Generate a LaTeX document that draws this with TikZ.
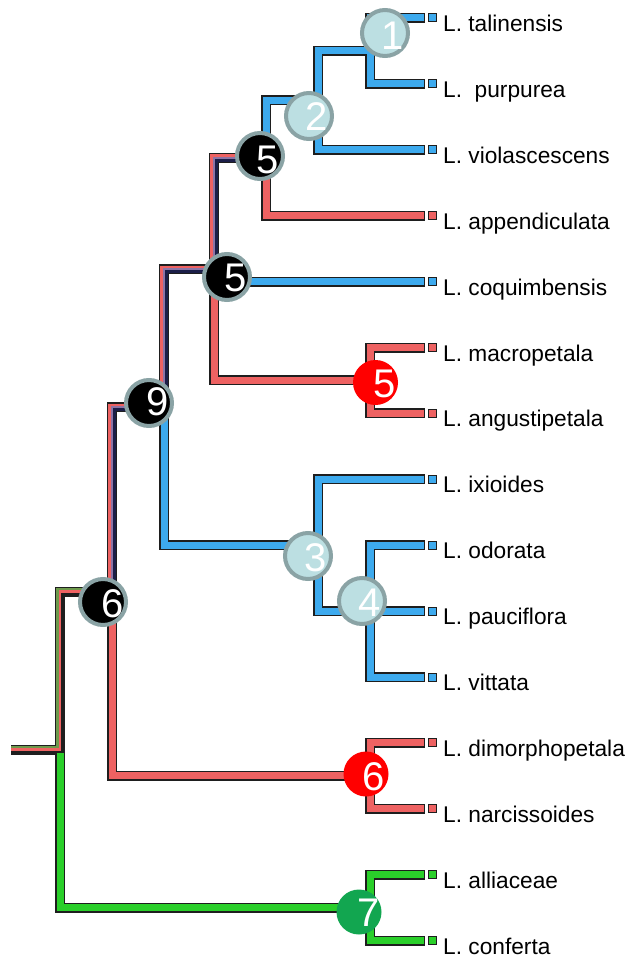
\documentclass[tikz,border=0pt]{standalone}
\usepackage{fontspec}
\setmainfont{Liberation Sans}
\usetikzlibrary{calc}
\definecolor{cb}{HTML}{3DAAEE}
\definecolor{cr}{HTML}{EE6262}
\definecolor{cg}{HTML}{2ACF2A}
\definecolor{colive}{HTML}{6E9A4C}
\definecolor{cmauve}{HTML}{8C74A6}
\definecolor{cnavy}{HTML}{1B1E48}
\definecolor{outc}{HTML}{1E1E1E}
\definecolor{lightc}{HTML}{BCDFE2}
\definecolor{ringc}{HTML}{8AA3A5}
\definecolor{redc}{HTML}{FF0000}
\definecolor{greenc}{HTML}{12A650}
\begin{document}
\begin{tikzpicture}[x=1pt,y=-1pt,
  outl/.style={line width=10pt, draw=outc, line join=miter, line cap=rect},
  fillc/.style={line width=7pt, draw=#1, line join=miter, line cap=rect},
  stripe/.style={line width=2.5pt, draw=#1, line join=miter, line cap=butt},
  leafsq/.style={draw=outc, line width=1pt, fill=#1, minimum size=8pt, inner sep=0pt},
  leaflab/.style={anchor=base west, inner sep=0pt, font=\fontsize{22.7}{26}\selectfont},
  ringcirc/.style={circle, fill=#1, draw=ringc, line width=4pt, minimum size=46pt, inner sep=0pt},
  solidcirc/.style={circle, fill=#1, minimum size=45pt, inner sep=0pt},
  digit/.style={text=white, inner sep=0pt, font=\fontsize{40}{42}\selectfont},
]
\useasboundingbox (0,0) rectangle (629,958);
% leaves
\foreach \i/\y in {0/18,1/83.9,2/149.8,3/215.7,4/281.6,5/347.5,6/413.4,7/479.3,8/545.2,9/611.1,10/677,11/742.9,12/808.8,13/874.7,14/940.6}
  \coordinate (L\i) at (420,\y);
% internal nodes
\coordinate (A) at (370,50.95);
\coordinate (B) at (318,100.4);
\coordinate (C) at (266,158.05);
\coordinate (E) at (370,380.45);
\coordinate (D) at (214,269.25);
\coordinate (G) at (370,611.1);
\coordinate (F) at (318,545.2);
\coordinate (N9) at (164,407.2);
\coordinate (H) at (370,775.85);
\coordinate (N6) at (112,591.5);
\coordinate (I) at (370,907.65);
\coordinate (R) at (60,749.6);
\coordinate (RS) at (11,749.6);
% outlines
\foreach \p/\c in {A/L0,A/L1,B/A,B/L2,C/B,C/L3,D/L4,D/E,E/L5,E/L6,F/L7,F/G,G/L8,G/L9,G/L10,N9/F,N6/H,H/L11,H/L12,R/I,I/L13,I/L14,D/C,N9/D,N6/N9}
  \draw[outl] (\p) |- (\c);
\draw[outl, line cap=butt] (RS) -- (R) |- (N6);
% solid fills
\foreach \p/\c/\k in {A/L0/cb,A/L1/cb,B/A/cb,B/L2/cb,C/B/cb,C/L3/cr,D/L4/cb,D/E/cr,E/L5/cr,E/L6/cr,F/L7/cb,F/G/cb,G/L8/cb,G/L9/cb,G/L10/cb,N9/F/cb,N6/H/cr,H/L11/cr,H/L12/cr,R/I/cg,I/L13/cg,I/L14/cg}
  \draw[fillc=\k] (\p) |- (\c);
% striped fills
\foreach \p/\c in {D/C,N9/D,N6/N9} {
  \draw[stripe=cr] ($(\p)+(-2.35,-2.35)$) |- ($(\c)+(0,-2.35)$);
  \draw[stripe=cmauve] (\p) |- (\c);
  \draw[stripe=cnavy] ($(\p)+(2.35,2.35)$) |- ($(\c)+(0,2.35)$);
}
\draw[stripe=colive] ($(RS)+(0,-2.35)$) -- ($(R)+(-2.35,-2.35)$) |- ($(N6)+(0,-2.35)$);
\draw[stripe=cr] (RS) -- (R) |- (N6);
\draw[stripe=outc] ($(RS)+(0,2.35)$) -- ($(R)+(2.35,2.35)$) |- ($(N6)+(0,2.35)$);
% leaf squares and labels
\foreach \i/\k/\t in {0/cb/{L. talinensis},1/cb/{L.\ \ purpurea},2/cb/{L. violascescens},3/cr/{L. appendiculata},4/cb/{L. coquimbensis},5/cr/{L. macropetala},6/cr/{L. angustipetala},7/cb/{L. ixioides},8/cb/{L. odorata},9/cb/{L. pauciflora},10/cb/{L. vittata},11/cr/{L. dimorphopetala},12/cr/{L. narcissoides},13/cg/{L. alliaceae},14/cg/{L. conferta}} {
  \node[leafsq=\k] (s\i) at ($(L\i)+(12.5,0)$) {};
  \node[leaflab] (t\i) at ($(L\i)+(23,13.5)$) {\t};
}
% circles
\node[ringcirc=lightc] (c1) at (385,33) {};
\node[ringcirc=lightc] (c2) at (309,116) {};
\node[ringcirc=black] (c5a) at (260,156) {};
\node[ringcirc=black] (c5b) at (227,277) {};
\node[solidcirc=redc] (c5r) at (375.5,382.5) {};
\node[ringcirc=black] (c9) at (149,403) {};
\node[ringcirc=lightc] (c3) at (308,556) {};
\node[ringcirc=lightc] (c4) at (362,601) {};
\node[ringcirc=black] (c6b) at (103,602) {};
\node[solidcirc=redc] (c6r) at (366,774) {};
\node[solidcirc=greenc] (c7) at (359,912) {};
% digits
\node[digit] (d1) at (393,36) {1};
\node[digit] (d2) at (317,117) {2};
\node[digit] (d5a) at (268,160) {5};
\node[digit] (d5b) at (236,278) {5};
\node[digit] (d5r) at (385,384) {5};
\node[digit] (d9) at (158,402) {9};
\node[digit] (d3) at (316,558) {3};
\node[digit] (d4) at (370,603) {4};
\node[digit] (d6b) at (113,604) {6};
\node[digit] (d6r) at (374,777) {6};
\node[digit] (d7) at (369,913) {7};
\end{tikzpicture}
\end{document}
